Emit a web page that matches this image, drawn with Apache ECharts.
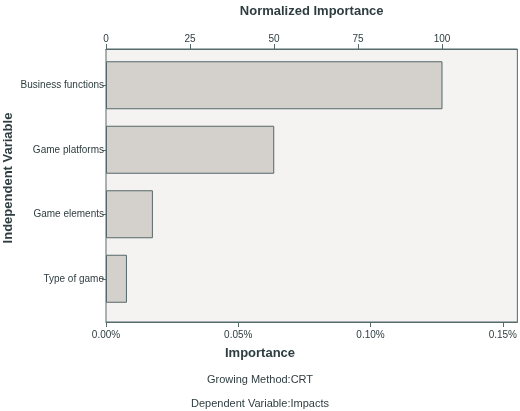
<!DOCTYPE html><html><head><meta charset="utf-8"><script src="https://cdn.jsdelivr.net/npm/echarts@6/dist/echarts.min.js"></script></head><body style="margin:0"><div id="c" style="width:520px;height:411px"></div><script>
const categories=['Business functions','Game platforms','Game elements','Type of game'];
const importance=[0.1270,0.0635,0.0177,0.0079];
const bottomTicks=[0,0.05,0.10,0.15];
const xMax=0.1555, normMax=122.4;
const ax='#56696b', txt='#2f3d40';
const ch=echarts.init(document.getElementById('c'));
ch.setOption({
 animation:false,
 textStyle:{fontFamily:'Liberation Sans'},
 graphic:[
  {type:'text',left:'center',top:347,style:{text:'Importance',font:'bold 13px Liberation Sans',fill:txt}},
  {type:'text',left:'center',top:374,style:{text:'Growing Method:CRT',font:'11px Liberation Sans',fill:txt}},
  {type:'text',left:'center',top:398,style:{text:'Dependent Variable:Impacts',font:'11px Liberation Sans',fill:txt}},
  {type:'text',rotation:Math.PI/2,x:8,y:178,style:{text:'Independent Variable',font:'bold 13px Liberation Sans',fill:txt,align:'center',verticalAlign:'middle'}}
 ],
 grid:[{left:106,right:2,top:38,bottom:89,show:true,backgroundColor:'#f4f3f1',borderColor:ax,borderWidth:1},
       {left:106,right:2,top:53,bottom:100}],
 xAxis:[
  {gridIndex:0,type:'value',position:'bottom',min:0,max:xMax,interval:0.05,splitLine:{show:false},
   axisLine:{show:true,lineStyle:{color:ax}},axisTick:{show:true,length:5,lineStyle:{color:ax}},
   axisLabel:{color:txt,fontSize:10,formatter:v=>bottomTicks.some(t=>Math.abs(t-v)<1e-9)?v.toFixed(2)+'%':'',showMaxLabel:false}},
  {gridIndex:0,type:'value',position:'top',min:0,max:normMax,interval:25,splitLine:{show:false},
   name:'Normalized Importance',nameLocation:'middle',nameGap:31,nameTextStyle:{fontWeight:'bold',fontSize:13,color:txt},
   axisLine:{show:true,lineStyle:{color:ax}},axisTick:{show:true,length:5,lineStyle:{color:ax}},
   axisLabel:{color:txt,fontSize:10,margin:5,showMaxLabel:false}},
  {gridIndex:1,type:'value',min:0,max:xMax,show:false}
 ],
 yAxis:[
  {gridIndex:0,type:'value',show:false},
  {gridIndex:1,type:'category',data:categories,inverse:true,
   axisLine:{show:false},axisTick:{show:true,alignWithLabel:true,length:4,lineStyle:{color:ax}},
   axisLabel:{color:txt,fontSize:10,margin:2}}
 ],
 series:[{type:'bar',xAxisIndex:2,yAxisIndex:1,data:importance,barWidth:48,
  itemStyle:{color:'#d4d0cb',borderColor:'#55676a',borderWidth:1}}]
});
</script></body></html>
